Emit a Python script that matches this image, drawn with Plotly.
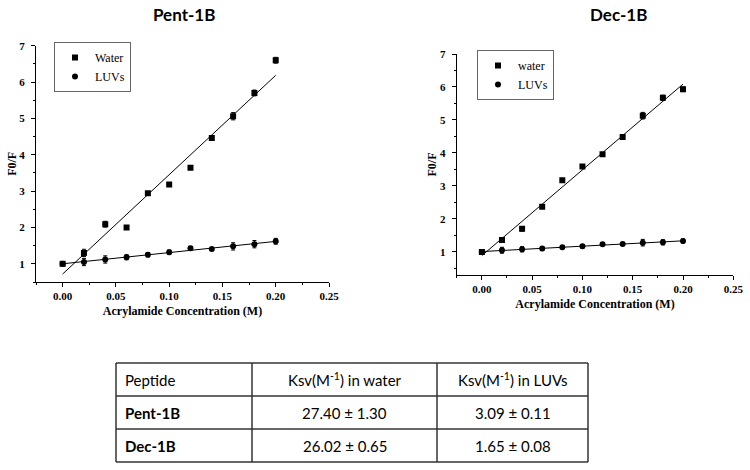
import numpy as np
import plotly.graph_objects as go

# ---------------- data ----------------
conc = [0.00, 0.02, 0.04, 0.06, 0.08, 0.10, 0.12, 0.14, 0.16, 0.18, 0.20]

pent_water = [1.00, 1.30, 2.09, 2.00, 2.94, 3.18, 3.64, 4.46, 5.06, 5.70, 6.60]
pent_water_err = [0.02, 0.10, 0.08, 0.05, 0.05, 0.03, 0.03, 0.03, 0.10, 0.08, 0.08]
pent_luvs = [1.00, 1.05, 1.12, 1.18, 1.25, 1.32, 1.43, 1.41, 1.48, 1.54, 1.62]
pent_luvs_err = [0.02, 0.10, 0.10, 0.07, 0.06, 0.06, 0.05, 0.03, 0.10, 0.10, 0.08]

dec_water = [1.00, 1.36, 1.70, 2.37, 3.17, 3.59, 3.96, 4.48, 5.13, 5.67, 5.93]
dec_water_err = [0.02, 0.07, 0.07, 0.05, 0.04, 0.04, 0.04, 0.04, 0.10, 0.08, 0.07]
dec_luvs = [1.00, 1.05, 1.08, 1.10, 1.14, 1.17, 1.23, 1.24, 1.28, 1.29, 1.33]
dec_luvs_err = [0.02, 0.09, 0.08, 0.06, 0.04, 0.05, 0.04, 0.03, 0.10, 0.08, 0.06]

panel_titles = ["Pent-1B", "Dec-1B"]
pent_legend = ["Water", "LUVs"]
dec_legend = ["water", "LUVs"]
x_title = "Acrylamide Concentration (M)"
y_title = "F0/F"

table_header = ["Peptide", "Ksv(M<sup>-1</sup>) in water", "Ksv(M<sup>-1</sup>) in LUVs"]
table_peptides = ["Pent-1B", "Dec-1B"]
ksv_water = ["27.40 ± 1.30", "26.02 ± 0.65"]
ksv_luvs = ["3.09 ± 0.11", "1.65 ± 0.08"]

# ---------------- figure ----------------
W, H = 750, 470
fig = go.Figure()


def px_x(p):
    return p / W


def px_y(p):
    return 1 - p / H


serif = "Liberation Serif"


def add_panel(xa, ya, water, water_err, luvs, luvs_err, names, legend):
    for y, err, sym, nm in [(water, water_err, "square", names[0]),
                            (luvs, luvs_err, "circle", names[1])]:
        fig.add_trace(go.Scatter(
            x=conc, y=y, mode="markers", name=nm, legend=legend,
            xaxis=xa, yaxis=ya,
            marker=dict(symbol=sym, size=6, color="black"),
            error_y=dict(type="data", array=err, color="black",
                         thickness=1, width=2),
        ))
        k, b = np.polyfit(conc, y, 1)
        xs = [conc[0], conc[-1]]
        fig.add_trace(go.Scatter(
            x=xs, y=[b + k * v for v in xs], mode="lines",
            line=dict(color="black", width=1), showlegend=False,
            xaxis=xa, yaxis=ya, hoverinfo="skip",
        ))


add_panel("x", "y", pent_water, pent_water_err, pent_luvs, pent_luvs_err,
          pent_legend, "legend")
add_panel("x2", "y2", dec_water, dec_water_err, dec_luvs, dec_luvs_err,
          dec_legend, "legend2")

tickfont = dict(family=serif, size=11, color="black", weight="bold")
titlefont = dict(family=serif, size=12, color="black", weight="bold")


def xaxis(dom, anchor, standoff):
    return dict(domain=dom, anchor=anchor, range=[-0.025, 0.25],
                tick0=0, dtick=0.05, tickformat=".2f", automargin=False,
                showline=True, linecolor="black", linewidth=1,
                ticks="outside", ticklen=4, tickcolor="black",
                showgrid=False, zeroline=False, tickfont=tickfont,
                minor=dict(ticks="outside", ticklen=2, tickcolor="black",
                           dtick=0.025, tick0=0, showgrid=False),
                title=dict(text=x_title, font=titlefont, standoff=standoff))


def yaxis(dom, anchor, rng):
    return dict(domain=dom, anchor=anchor, range=rng,
                tick0=0, dtick=1, automargin=False,
                showline=True, linecolor="black", linewidth=1,
                ticks="outside", ticklen=4, tickcolor="black",
                ticklabelstandoff=4,
                showgrid=False, zeroline=False, tickfont=tickfont,
                minor=dict(ticks="outside", ticklen=2, tickcolor="black",
                           dtick=0.5, tick0=0, showgrid=False),
                title=dict(text=y_title, font=titlefont, standoff=0))


legend_style = dict(xanchor="left", yanchor="top",
                    bordercolor="#666", borderwidth=1, bgcolor="white",
                    font=dict(family=serif, size=12, color="black"),
                    itemwidth=30, tracegroupgap=0)

fig.update_layout(
    width=W, height=H,
    margin=dict(l=0, r=0, t=0, b=0, autoexpand=False),
    paper_bgcolor="white", plot_bgcolor="white",
    xaxis=xaxis([px_x(36), px_x(329)], "y", 5),
    yaxis=yaxis([px_y(282), px_y(45.7)], "x", [0.5, 7]),
    xaxis2=xaxis([px_x(456.7), px_x(733.3)], "y2", 5),
    yaxis2=yaxis([px_y(275), px_y(54)], "x2", [0.3, 7]),
    legend=dict(x=px_x(54), y=px_y(42), **legend_style),
    legend2=dict(x=px_x(477), y=px_y(50), **legend_style),
    showlegend=True,
)

title_pos = [(184, 14), (618, 14)]
for t, (cx, cy) in zip(panel_titles, title_pos):
    fig.add_annotation(text=t, x=px_x(cx), y=px_y(cy), xref="paper",
                       yref="paper", showarrow=False, xanchor="center",
                       yanchor="middle",
                       font=dict(family="Lato", size=17, color="black",
                                 weight="bold"))

# ---------------- table ----------------
col_edges = [116, 252, 437, 588]
row_edges = [363, 396, 429, 462]
line_col = "#333"
tfont = dict(family="Lato", size=15, color="black")

for xe in col_edges:
    fig.add_shape(type="line", xref="paper", yref="paper",
                  x0=px_x(xe), x1=px_x(xe),
                  y0=px_y(row_edges[0]), y1=px_y(row_edges[-1]),
                  line=dict(color=line_col, width=1.5))
for ye in row_edges:
    fig.add_shape(type="line", xref="paper", yref="paper",
                  x0=px_x(col_edges[0]), x1=px_x(col_edges[-1]),
                  y0=px_y(ye), y1=px_y(ye),
                  line=dict(color=line_col, width=1.5))

rows = [table_header] + [
    ["<b>%s</b>" % p, w, l]
    for p, w, l in zip(table_peptides, ksv_water, ksv_luvs)
]
for r, row in enumerate(rows):
    cy = (row_edges[r] + row_edges[r + 1]) / 2
    for c, txt in enumerate(row):
        if c == 0:
            x, anc = col_edges[0] + 7, "left"
        else:
            x, anc = (col_edges[c] + col_edges[c + 1]) / 2, "center"
        fig.add_annotation(text=txt, x=px_x(x), y=px_y(cy), xref="paper",
                           yref="paper", showarrow=False, xanchor=anc,
                           yanchor="middle", font=tfont)

fig.write_html(
    "out.html",
    config={"displayModeBar": False},
    post_script=("document.body.style.margin='0px';"
                 "document.body.style.padding='0px';"
                 "document.documentElement.style.overflow='hidden';"),
)
